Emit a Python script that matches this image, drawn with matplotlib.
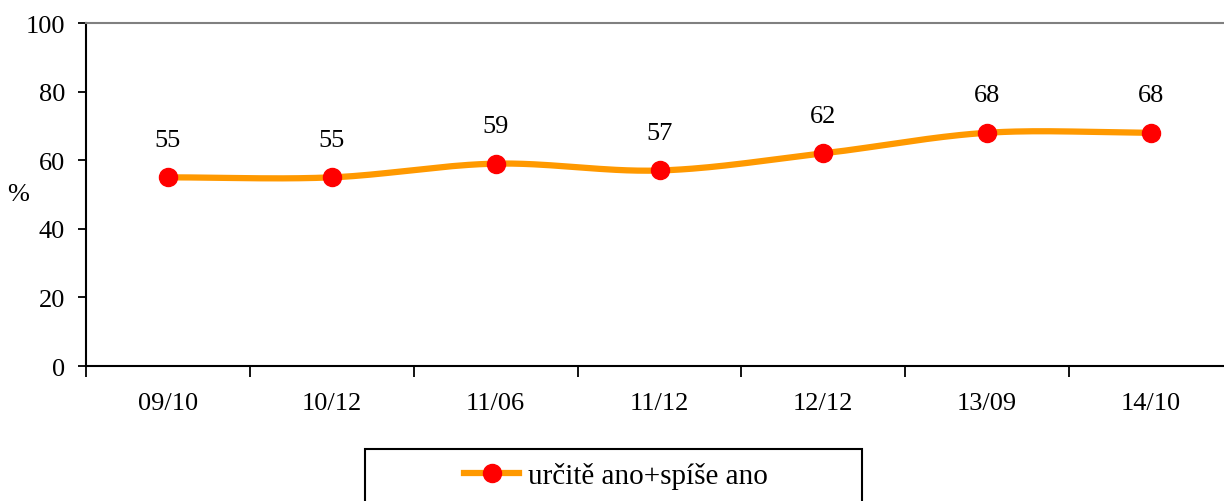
import numpy as np
import matplotlib
matplotlib.use("Agg")
import matplotlib.pyplot as plt
from matplotlib.patches import Rectangle

categories = ["09/10", "10/12", "11/06", "11/12", "12/12", "13/09", "14/10"]
values = [55, 55, 59, 57, 62, 68, 68]
series_name = "určitě ano+spíše ano"
yticks = [0, 20, 40, 60, 80, 100]

plt.rcParams['font.family'] = ['Liberation Serif', 'DejaVu Serif']

W, H = 1224, 502
FS = 19
fig = plt.figure(figsize=(W / 100, H / 100), dpi=100)
# axes: left 86px, right ~1233px, top 24px, bottom 367px
ax = fig.add_axes([86 / W, (H - 367) / H, (1233 - 86) / W, (367 - 24) / H])

x = np.arange(len(categories))

def catmull_rom(xs, ys, n=30):
    xs = np.asarray(xs, float); ys = np.asarray(ys, float)
    px = np.concatenate([[2 * xs[0] - xs[1]], xs, [2 * xs[-1] - xs[-2]]])
    py = np.concatenate([[2 * ys[0] - ys[1]], ys, [2 * ys[-1] - ys[-2]]])
    ox, oy = [], []
    for i in range(1, len(px) - 2):
        t = np.linspace(0, 1, n, endpoint=(i == len(px) - 3))
        for arr, out in ((px, ox), (py, oy)):
            p0, p1, p2, p3 = arr[i - 1], arr[i], arr[i + 1], arr[i + 2]
            out.extend(0.5 * ((2 * p1) + (-p0 + p2) * t
                              + (2 * p0 - 5 * p1 + 4 * p2 - p3) * t ** 2
                              + (-p0 + 3 * p1 - 3 * p2 + p3) * t ** 3))
    return np.array(ox), np.array(oy)

LW = 4.5
sx, sy = catmull_rom(x, values)
ax.plot(sx, sy, color="#FF9900", lw=LW, solid_capstyle="butt", zorder=2)
ax.plot(x, values, linestyle="none", marker="o", markersize=13,
        markerfacecolor="#FF0000", markeredgecolor="#FF0000", zorder=3)
for xi, v in zip(x, values):
    ax.annotate(str(v), (xi, v), xytext=(0, 27), textcoords="offset points",
                ha="center", va="center", fontsize=FS)

legend_handle, = ax.plot([], [], color="#FF9900", lw=LW, marker="o", markersize=13,
                         markerfacecolor="#FF0000", markeredgecolor="#FF0000")

ax.set_xlim(-0.5, len(categories) - 0.5)
ax.set_ylim(0, 100)
ax.set_yticks(yticks)
ax.set_yticklabels([str(t) for t in yticks], fontsize=FS)
ax.set_xticks(x)
ax.set_xticklabels(categories, fontsize=FS)
ax.set_xticks(np.arange(-0.5, len(categories) + 0.5, 1), minor=True)
ax.tick_params(axis="x", which="major", length=0, pad=19)
ax.tick_params(axis="x", which="minor", length=8, width=1.3, direction="out", color="black")
ax.tick_params(axis="y", length=6, width=1.3, direction="out", color="black", pad=9)

ax.spines["left"].set_linewidth(1.5)
ax.spines["bottom"].set_linewidth(1.5)
ax.spines["top"].set_color("#808080")
ax.spines["top"].set_linewidth(1.5)
ax.spines["right"].set_visible(False)

fig.text(18 / W, 1 - 195 / H, "%", fontsize=FS, ha="center", va="center")

# legend box (extends past the bottom edge, as in the reference)
fig.patches.append(Rectangle((365 / W, 1 - 515 / H), (862 - 365) / W, (515 - 450) / H,
                             transform=fig.transFigure, facecolor="white",
                             edgecolor="black", linewidth=1.5, zorder=5))
leg = fig.legend([legend_handle], [series_name], loc="center",
                 bbox_to_anchor=(616 / W, 1 - 477 / H), fontsize=21, frameon=False,
                 handlelength=1.9, handletextpad=0.3)
leg.set_zorder(6)

fig.savefig("out.png", dpi=100)
